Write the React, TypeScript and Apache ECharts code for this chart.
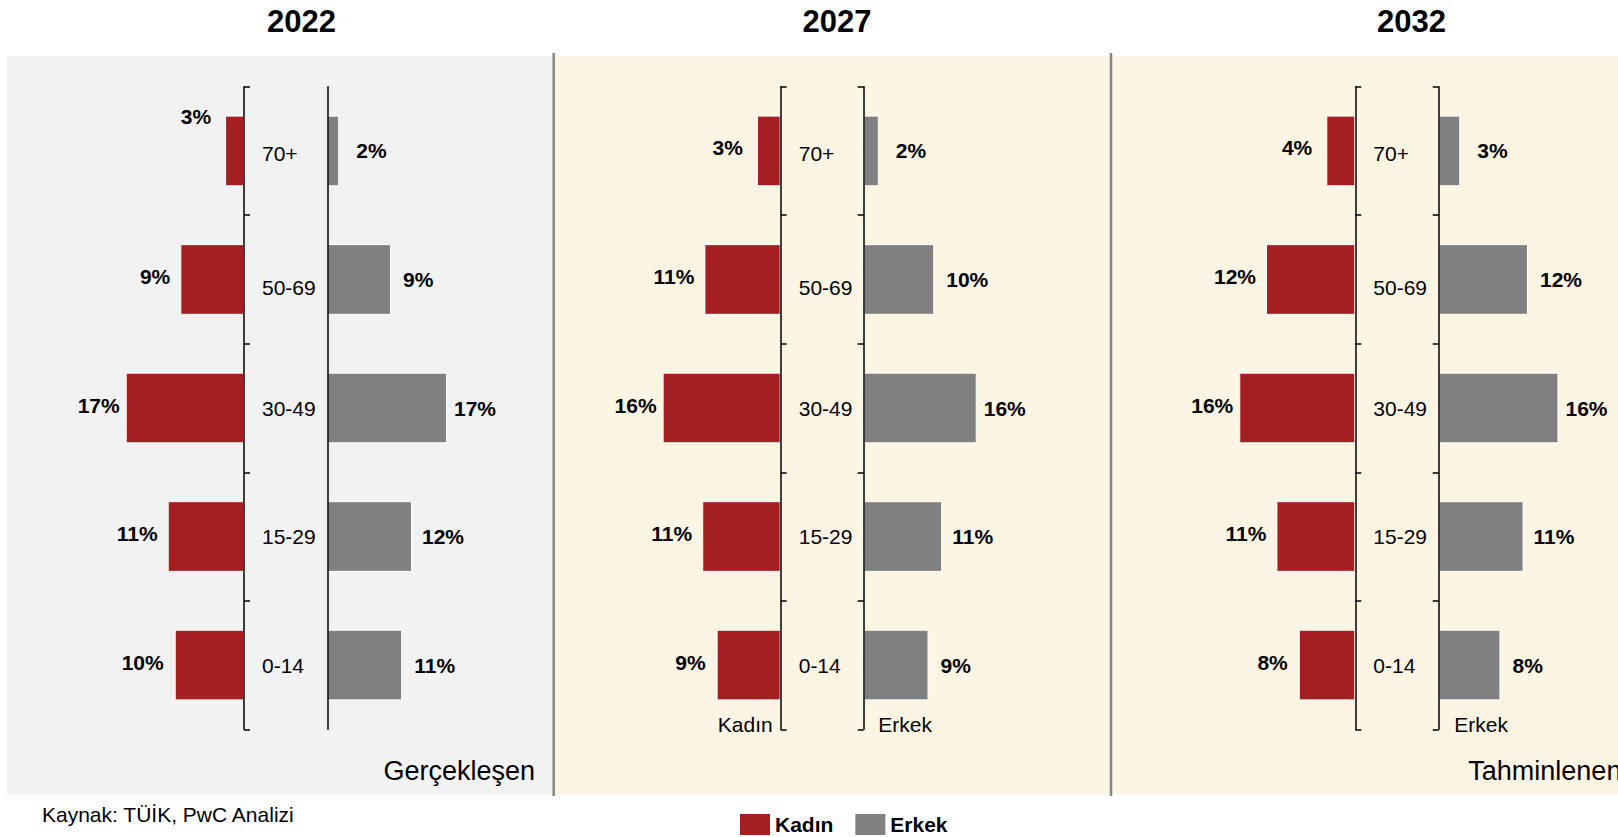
import React, { useEffect, useRef } from 'react';
import * as echarts from 'echarts';

// ---- data ----
const ageGroups = ['70+', '50-69', '30-49', '15-29', '0-14'];
const years = ['2022', '2027', '2032'];
const seriesNames = ['Kadın', 'Erkek'];
const kadin2022 = [2.7, 9.1, 16.9, 10.9, 9.9];
const erkek2022 = [1.7, 9.1, 17.1, 12.1, 10.7];
const kadin2027 = [3.3, 10.6, 16.4, 10.9, 8.9];
const erkek2027 = [2.1, 9.8, 15.7, 10.9, 9.0];
const kadin2032 = [3.9, 12.0, 15.6, 10.6, 7.6];
const erkek2032 = [2.9, 12.0, 16.1, 11.4, 8.3];
const sourceText = 'Kaynak: TÜİK, PwC Analizi';
const periodLabels = ['Gerçekleşen', 'Tahminlenen'];

// ---- layout / style ----
const FONT = 'Arial, "Liberation Sans", Helvetica, sans-serif';
const RED = '#A31F22';
const GRAY = '#808080';
const GRID_TOP = 86.7;
const GRID_H = 642.6;
const AXIS_MAX = 30;
const LABEL_GAP_K = [14, 10, 6, 10, 11];
const LABEL_GAP_E = [17, 12, 7, 10, 12];
const CAT_LABEL_SHIFT = [6, 16, 0, 0, 0];

const panels = [
  { year: years[0], kadin: kadin2022, erkek: erkek2022, axisK: 244, axisE: 327.3, px: 7.0, erkekTicks: false, titleX: 301.5, raiseTop: true },
  { year: years[1], kadin: kadin2027, erkek: erkek2027, axisK: 780.7, axisE: 863.7, px: 7.2, erkekTicks: true, titleX: 837, raiseTop: false },
  { year: years[2], kadin: kadin2032, erkek: erkek2032, axisK: 1355.3, axisE: 1438.7, px: 7.44, erkekTicks: true, titleX: 1411.5, raiseTop: false },
];

function buildOption() {
  const grid: any[] = [];
  const xAxis: any[] = [];
  const yAxis: any[] = [];
  const series: any[] = [];
  const axisLineStyle = { color: '#000', width: 1.5 };
  const rich: any = {};
  CAT_LABEL_SHIFT.forEach((s, j) => {
    rich['c' + j] = { fontSize: 21, color: '#000', fontFamily: FONT, padding: [s, 0, 0, 0] };
  });

  panels.forEach((p, i) => {
    const w = AXIS_MAX * p.px;
    grid.push({ left: p.axisK - w, top: GRID_TOP, width: w, height: GRID_H, containLabel: false, outerBoundsMode: 'none' });
    grid.push({ left: p.axisE, top: GRID_TOP, width: w, height: GRID_H, containLabel: false, outerBoundsMode: 'none' });
    const gk = 2 * i;
    const ge = 2 * i + 1;
    xAxis.push({ gridIndex: gk, type: 'value', min: 0, max: AXIS_MAX, inverse: true, show: false });
    xAxis.push({ gridIndex: ge, type: 'value', min: 0, max: AXIS_MAX, show: false });
    yAxis.push({
      gridIndex: gk, type: 'category', data: ageGroups, inverse: true, position: 'right', z: 10,
      axisLine: { show: true, onZero: false, lineStyle: axisLineStyle },
      axisTick: { show: true, inside: false, length: 6, lineStyle: axisLineStyle },
      axisLabel: {
        show: true, interval: 0, margin: 18, fontSize: 21, color: '#000', fontFamily: FONT,
        formatter: (v: string, idx: number) => '{c' + idx + '|' + v + '}',
        rich,
      },
      splitLine: { show: false },
    });
    yAxis.push({
      gridIndex: ge, type: 'category', data: ageGroups, inverse: true, position: 'left', z: 10,
      axisLine: { show: true, onZero: false, lineStyle: axisLineStyle },
      axisTick: { show: p.erkekTicks, inside: false, length: 6, lineStyle: axisLineStyle },
      axisLabel: { show: false },
      splitLine: { show: false },
    });
    const labelBase = {
      show: true,
      fontSize: 21,
      fontWeight: 'bold',
      color: '#000',
      fontFamily: FONT,
      formatter: (prm: any) => Math.round(prm.value) + '%',
    };
    series.push({
      type: 'bar', name: seriesNames[0], xAxisIndex: gk, yAxisIndex: gk,
      barCategoryGap: '45%',
      itemStyle: { color: RED, borderColor: '#fff', borderWidth: 1 },
      label: { ...labelBase, position: 'left' },
      data: p.kadin.map((v, j) => ({
        value: v,
        label: { distance: LABEL_GAP_K[j], offset: [0, p.raiseTop && j === 0 ? -34 : -3] },
      })),
    });
    series.push({
      type: 'bar', name: seriesNames[1], xAxisIndex: ge, yAxisIndex: ge,
      barCategoryGap: '45%',
      itemStyle: { color: GRAY, borderColor: '#fff', borderWidth: 1 },
      label: { ...labelBase, position: 'right' },
      data: p.erkek.map((v, j) => ({
        value: v,
        label: { distance: LABEL_GAP_E[j], offset: [0, 0] },
      })),
    });
  });

  const txt = (text: string, x: number, y: number, size: number, align: string, bold = false) => ({
    type: 'text', x, y, z: 20,
    style: { text, fill: '#000', fontSize: size, fontWeight: bold ? 'bold' : 'normal', fontFamily: FONT, align, verticalAlign: 'middle' },
  });

  const graphic: any[] = [
    { type: 'rect', z: -10, shape: { x: 7, y: 56, width: 546.5, height: 738.5 }, style: { fill: '#F2F2F2' } },
    { type: 'rect', z: -10, shape: { x: 554.5, y: 56, width: 556, height: 738.5 }, style: { fill: '#FDF5E3' } },
    { type: 'rect', z: -10, shape: { x: 1112, y: 56, width: 510, height: 738.5 }, style: { fill: '#FDF5E3' } },
    { type: 'line', z: -5, shape: { x1: 553.7, y1: 53, x2: 553.7, y2: 796 }, style: { stroke: '#858585', lineWidth: 2.5 } },
    { type: 'line', z: -5, shape: { x1: 1111, y1: 53, x2: 1111, y2: 796 }, style: { stroke: '#858585', lineWidth: 2.5 } },
    ...panels.map((p) => txt(p.year, p.titleX, 21.5, 31, 'center', true)),
    txt(sourceText, 42, 814, 21, 'left'),
    txt(periodLabels[0], 535, 771, 27, 'right'),
    txt(periodLabels[1], 1468.3, 771, 27, 'left'),
    txt(seriesNames[0], 772.7, 724, 21, 'right'),
    txt(seriesNames[1], 878.3, 724, 21, 'left'),
    txt(seriesNames[1], 1454.3, 724, 21, 'left'),
  ];

  return {
    animation: false,
    backgroundColor: '#ffffff',
    grid,
    xAxis,
    yAxis,
    series,
    legend: {
      data: seriesNames,
      left: 740,
      top: 814,
      padding: 0,
      itemWidth: 30,
      itemHeight: 21,
      itemGap: 22,
      icon: 'rect',
      selectedMode: false,
      itemStyle: { borderWidth: 0 },
      textStyle: { fontSize: 21, fontWeight: 'bold', color: '#000', fontFamily: FONT },
    },
    graphic,
  };
}

export default function App() {
  const ref = useRef<HTMLDivElement>(null);
  useEffect(() => {
    if (!ref.current) return;
    const chart = echarts.init(ref.current, undefined, { renderer: 'svg' });
    chart.setOption(buildOption() as any);
    return () => chart.dispose();
  }, []);
  return <div ref={ref} style={{ position: 'absolute', left: 0, top: 0, width: 1618, height: 837 }} />;
}
